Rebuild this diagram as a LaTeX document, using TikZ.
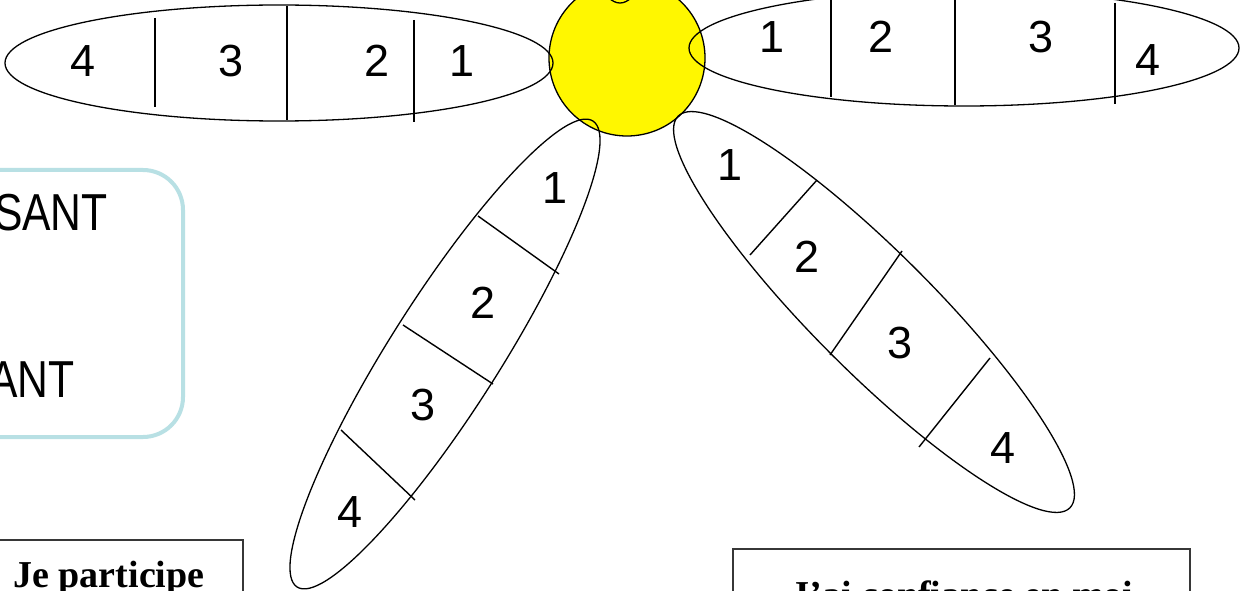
\documentclass[tikz,border=0pt]{standalone}
\usepackage{fontspec}
\setmainfont{Liberation Sans}
\newfontfamily\titlefont{Liberation Serif}
\definecolor{boxblue}{RGB}{184,224,228}
\definecolor{boxgray}{RGB}{55,55,55}
\definecolor{heartyellow}{RGB}{255,247,0}
\begin{document}
\begin{tikzpicture}[x=1pt,y=-1pt,
  petal/.style={draw=black, line width=1.3pt},
  divider/.style={draw=black, line width=1.4pt},
  num/.style={font=\fontsize{45}{54}\selectfont, inner sep=0pt},
  sidetext/.style={font=\fontsize{52}{60}\selectfont, inner sep=0pt, anchor=base east},
  titletext/.style={font=\titlefont\bfseries\fontsize{38}{44}\selectfont, inner sep=0pt, anchor=base},
  framebox/.style={draw=boxgray, line width=2pt}]
\useasboundingbox (0,0) rectangle (1240,591);
\clip (0,0) rectangle (1240,591);
\fill[white] (0,0) rectangle (1240,591);

% heart of the flower
\node[circle, fill=heartyellow, draw=black, line width=1.3pt, minimum size=156pt, inner sep=0pt] (heart) at (627,58) {};

% petals
\draw[petal] (279,63) ellipse [x radius=274, y radius=58];
\draw[petal] (964,48) ellipse [x radius=275, y radius=58];
\draw[petal, rotate around={90:(620,-272)}] (620,-272) ellipse [x radius=275, y radius=58];
\draw[petal, rotate around={57.6:(445,354)}] (445,354) ellipse [x radius=276, y radius=55];
\draw[petal, rotate around={-45:(874,312)}] (874,312) ellipse [x radius=277, y radius=60];

% dividers: left petal
\draw[divider] (155,18) -- (155,107);
\draw[divider] (287,6) -- (287,120);
\draw[divider] (414,20) -- (414,122);
% dividers: right petal
\draw[divider] (831,0) -- (831,97);
\draw[divider] (955,0) -- (955,105);
\draw[divider] (1115,3) -- (1115,104);
% dividers: lower-left petal
\draw[divider] (478,216) -- (559,274);
\draw[divider] (403,325) -- (493,384);
\draw[divider] (341,430) -- (415,500);
% dividers: lower-right petal
\draw[divider] (750,255) -- (817,180);
\draw[divider] (830,355) -- (902,251);
\draw[divider] (919,447) -- (990,358);

% numbers: left petal
\node[num] (l4) at (83,61) {4};
\node[num] (l3) at (231,61) {3};
\node[num] (l2) at (377,61) {2};
\node[num] (l1) at (462,61) {1};
% numbers: right petal
\node[num] (r1) at (772,37) {1};
\node[num] (r2) at (881,37) {2};
\node[num] (r3) at (1041,37) {3};
\node[num] (r4) at (1148,60) {4};
% numbers: lower-left petal
\node[num] (ll1) at (555,188) {1};
\node[num] (ll2) at (483,303) {2};
\node[num] (ll3) at (423,405) {3};
\node[num] (ll4) at (350,512) {4};
% numbers: lower-right petal
\node[num] (lr1) at (730,165) {1};
\node[num] (lr2) at (807,257) {2};
\node[num] (lr3) at (900,343) {3};
\node[num] (lr4) at (1003,448) {4};

% left legend box
\draw[boxblue, line width=4pt, rounded corners=40pt] (-80,170) rectangle (183,437);
\node[sidetext] (sant1) at (108,230) {\scalebox{0.82}[1]{SANT}};
\node[sidetext] (sant2) at (75,397) {\scalebox{0.82}[1]{ANT}};

% bottom captions
\draw[framebox] (-25,540) rectangle (243,660);
\node[titletext] (jeparticipe) at (109,587) {Je participe};
\draw[framebox] (733,549) rectangle (1190,660);
\node[titletext] (confiance) at (962,607) {J’ai confiance en moi};
\end{tikzpicture}
\end{document}
